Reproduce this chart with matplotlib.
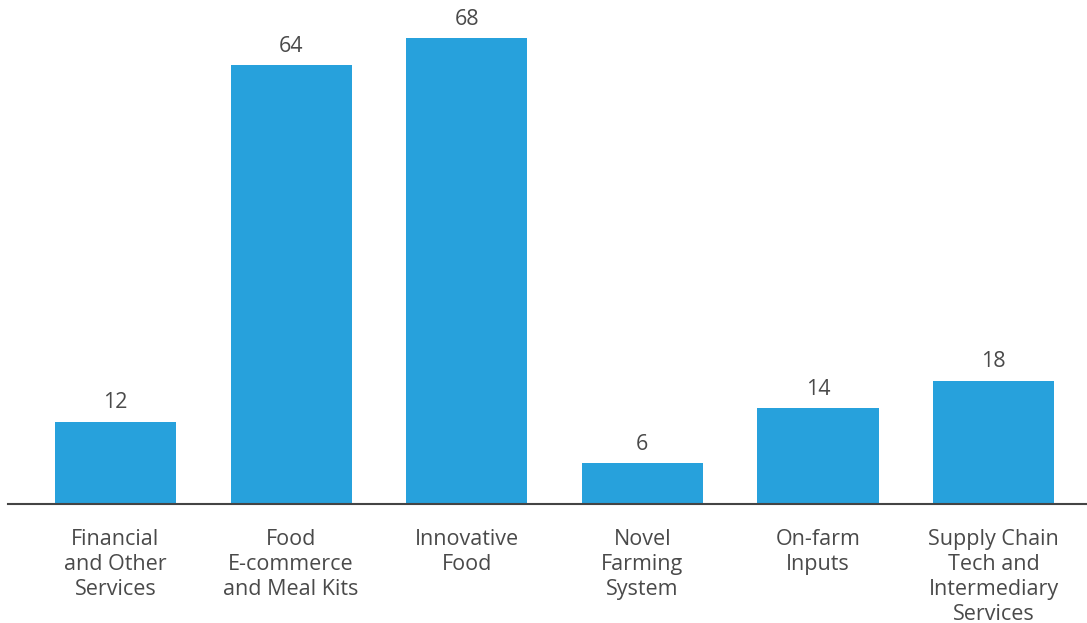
import matplotlib
matplotlib.use("Agg")
import matplotlib.pyplot as plt

categories = [
    "Financial\nand Other\nServices",
    "Food\nE-commerce\nand Meal Kits",
    "Innovative\nFood",
    "Novel\nFarming\nSystem",
    "On-farm\nInputs",
    "Supply Chain\nTech and\nIntermediary\nServices",
]
values = [12, 64, 68, 6, 14, 18]

bar_color = "#27A1DC"
text_color = "#4a4a4a"

plt.rcParams["font.family"] = ["Open Sans", "DejaVu Sans"]

fig = plt.figure(figsize=(10.87, 6.23), dpi=100)
ax = fig.add_axes([8 / 1087, 119 / 623, 1079 / 1087, 466 / 623])

x = list(range(len(values)))
bars = ax.bar(x, values, width=0.69, color=bar_color, zorder=2)

for b, v in zip(bars, values):
    ax.annotate(str(v), (b.get_x() + b.get_width() / 2, v),
                xytext=(0, 6), textcoords="offset points",
                ha="center", va="bottom", fontsize=15.5, color=text_color)

ax.set_xlim(-0.612, 5.532)
ax.set_ylim(0, 68)
ax.set_xticks(x)
ax.set_xticklabels(categories, fontsize=15.5, color=text_color, linespacing=1.24)
ax.tick_params(axis="x", length=0, pad=18)
ax.set_yticks([])

for side in ["top", "right", "left"]:
    ax.spines[side].set_visible(False)
ax.spines["bottom"].set_color("#444444")
ax.spines["bottom"].set_linewidth(1.5)

fig.savefig("out.png", dpi=100)
